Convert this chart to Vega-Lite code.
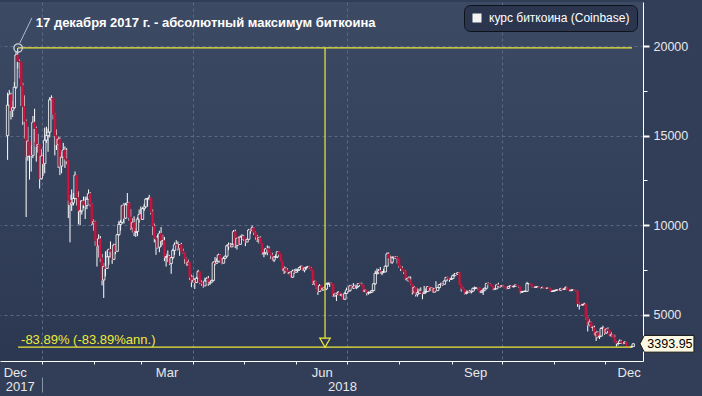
{
"$schema":"https://vega.github.io/schema/vega-lite/v6.json",
"width":643,"height":359,
"autosize":{"type":"none"},
"padding":{"left":0,"top":2,"right":59,"bottom":35},
"background":"#323e58",
"view":{"fill":{"gradient":"linear","x1":0,"y1":0,"x2":0,"y2":1,"stops":[{"offset":0,"color":"#3d4a64"},{"offset":1,"color":"#2c3852"}]},"stroke":null},
"config":{"font":"Liberation Sans","axis":{"labelFont":"Liberation Sans","labelFontSize":12.5,"labelColor":"#e8e8e8","domainColor":"#ffffff","tickColor":"#ffffff","gridColor":"#5a6985","gridDash":[3,3],"gridWidth":1,"title":null},
"legend":{"labelFont":"Liberation Sans","labelFontSize":12,"labelColor":"#ffffff"}},
"resolve":{"axis":{"x":"independent","y":"independent"}},
"datasets":{
"btc":[
{"d":"2017-12-11","o":15000,"h":17400,"l":13650,"c":16700},
{"d":"2017-12-12","o":16700,"h":17550,"l":16500,"c":17280},
{"d":"2017-12-13","o":17280,"h":17400,"l":15900,"c":16410},
{"d":"2017-12-14","o":16410,"h":16940,"l":16040,"c":16560},
{"d":"2017-12-15","o":16560,"h":17990,"l":16500,"c":17700},
{"d":"2017-12-16","o":17700,"h":19700,"l":17600,"c":19500},
{"d":"2017-12-17","o":19500,"h":19891,"l":18750,"c":19140},
{"d":"2017-12-18","o":19140,"h":19250,"l":18200,"c":19110},
{"d":"2017-12-19","o":19110,"h":19130,"l":16650,"c":17770},
{"d":"2017-12-20","o":17770,"h":17950,"l":15600,"c":16620},
{"d":"2017-12-21","o":16620,"h":17250,"l":14850,"c":15800},
{"d":"2017-12-22","o":15800,"h":15900,"l":10460,"c":13830},
{"d":"2017-12-23","o":13830,"h":15500,"l":13600,"c":14700},
{"d":"2017-12-24","o":14700,"h":14700,"l":12550,"c":13920},
{"d":"2017-12-25","o":13920,"h":14450,"l":13000,"c":13900},
{"d":"2017-12-26","o":13900,"h":16100,"l":13750,"c":15750},
{"d":"2017-12-27","o":15750,"h":16500,"l":14650,"c":15400},
{"d":"2017-12-28","o":15400,"h":15500,"l":13550,"c":14400},
{"d":"2017-12-29","o":14400,"h":15100,"l":14050,"c":14500},
{"d":"2017-12-30","o":14500,"h":14500,"l":12050,"c":12600},
{"d":"2017-12-31","o":12600,"h":14250,"l":12550,"c":13860},
{"d":"2018-01-01","o":13860,"h":13920,"l":12750,"c":13440},
{"d":"2018-01-02","o":13440,"h":15450,"l":12900,"c":14750},
{"d":"2018-01-03","o":14750,"h":15500,"l":14600,"c":15000},
{"d":"2018-01-04","o":15000,"h":15400,"l":14100,"c":15200},
{"d":"2018-01-05","o":15200,"h":17150,"l":14900,"c":17000},
{"d":"2018-01-06","o":17000,"h":17250,"l":16200,"c":17100},
{"d":"2018-01-07","o":17100,"h":17120,"l":15900,"c":16200},
{"d":"2018-01-08","o":16200,"h":16250,"l":13900,"c":15000},
{"d":"2018-01-09","o":15000,"h":15350,"l":14200,"c":14500},
{"d":"2018-01-10","o":14500,"h":14950,"l":13200,"c":14800},
{"d":"2018-01-11","o":14800,"h":14900,"l":12800,"c":13300},
{"d":"2018-01-12","o":13300,"h":14100,"l":12900,"c":13800},
{"d":"2018-01-13","o":13800,"h":14600,"l":13750,"c":14200},
{"d":"2018-01-14","o":14200,"h":14400,"l":13200,"c":13700},
{"d":"2018-01-15","o":13700,"h":14300,"l":13400,"c":13600},
{"d":"2018-01-16","o":13600,"h":13620,"l":10400,"c":11400},
{"d":"2018-01-17","o":11400,"h":11700,"l":9050,"c":11150},
{"d":"2018-01-18","o":11150,"h":12000,"l":10800,"c":11250},
{"d":"2018-01-19","o":11250,"h":11800,"l":11100,"c":11500},
{"d":"2018-01-20","o":11500,"h":13000,"l":11450,"c":12800},
{"d":"2018-01-21","o":12800,"h":12800,"l":11100,"c":11550},
{"d":"2018-01-22","o":11550,"h":11900,"l":10050,"c":10800},
{"d":"2018-01-23","o":10800,"h":11400,"l":10000,"c":10800},
{"d":"2018-01-24","o":10800,"h":11400,"l":10600,"c":11350},
{"d":"2018-01-25","o":11350,"h":11600,"l":10950,"c":11150},
{"d":"2018-01-26","o":11150,"h":11600,"l":10350,"c":11100},
{"d":"2018-01-27","o":11100,"h":11600,"l":10900,"c":11450},
{"d":"2018-01-28","o":11450,"h":12000,"l":11450,"c":11770},
{"d":"2018-01-29","o":11770,"h":11850,"l":11050,"c":11200},
{"d":"2018-01-30","o":11200,"h":11250,"l":10000,"c":10100},
{"d":"2018-01-31","o":10100,"h":10350,"l":9700,"c":10200},
{"d":"2018-02-01","o":10200,"h":10250,"l":8850,"c":9150},
{"d":"2018-02-02","o":9150,"h":9250,"l":7700,"c":8850},
{"d":"2018-02-03","o":8850,"h":9500,"l":8200,"c":9250},
{"d":"2018-02-04","o":9250,"h":9400,"l":7950,"c":8180},
{"d":"2018-02-05","o":8180,"h":8400,"l":6650,"c":6950},
{"d":"2018-02-06","o":6950,"h":7900,"l":5950,"c":7700},
{"d":"2018-02-07","o":7700,"h":8550,"l":7150,"c":7600},
{"d":"2018-02-08","o":7600,"h":8600,"l":7600,"c":8250},
{"d":"2018-02-09","o":8250,"h":8700,"l":7800,"c":8650},
{"d":"2018-02-10","o":8650,"h":9100,"l":8200,"c":8550},
{"d":"2018-02-11","o":8550,"h":8550,"l":7850,"c":8100},
{"d":"2018-02-12","o":8100,"h":8980,"l":8100,"c":8900},
{"d":"2018-02-13","o":8900,"h":8950,"l":8400,"c":8550},
{"d":"2018-02-14","o":8550,"h":9500,"l":8550,"c":9480},
{"d":"2018-02-15","o":9480,"h":10250,"l":9400,"c":10050},
{"d":"2018-02-16","o":10050,"h":10300,"l":9700,"c":10170},
{"d":"2018-02-17","o":10170,"h":11150,"l":10100,"c":11100},
{"d":"2018-02-18","o":11100,"h":11250,"l":10100,"c":10400},
{"d":"2018-02-19","o":10400,"h":11250,"l":10350,"c":11150},
{"d":"2018-02-20","o":11150,"h":11800,"l":11100,"c":11250},
{"d":"2018-02-21","o":11250,"h":11300,"l":10250,"c":10450},
{"d":"2018-02-22","o":10450,"h":10900,"l":9750,"c":9850},
{"d":"2018-02-23","o":9850,"h":10400,"l":9600,"c":10150},
{"d":"2018-02-24","o":10150,"h":10500,"l":9400,"c":9600},
{"d":"2018-02-25","o":9600,"h":9850,"l":9350,"c":9650},
{"d":"2018-02-26","o":9650,"h":10450,"l":9400,"c":10350},
{"d":"2018-02-27","o":10350,"h":10880,"l":10150,"c":10600},
{"d":"2018-02-28","o":10600,"h":11050,"l":10300,"c":10330},
{"d":"2018-03-01","o":10330,"h":11000,"l":10300,"c":10930},
{"d":"2018-03-02","o":10930,"h":11200,"l":10800,"c":11030},
{"d":"2018-03-03","o":11030,"h":11520,"l":11000,"c":11460},
{"d":"2018-03-04","o":11460,"h":11530,"l":11050,"c":11500},
{"d":"2018-03-05","o":11500,"h":11700,"l":11400,"c":11550},
{"d":"2018-03-06","o":11550,"h":11560,"l":10600,"c":10730},
{"d":"2018-03-07","o":10730,"h":10900,"l":9450,"c":9950},
{"d":"2018-03-08","o":9950,"h":10100,"l":9050,"c":9300},
{"d":"2018-03-09","o":9300,"h":9400,"l":8350,"c":9230},
{"d":"2018-03-10","o":9230,"h":9500,"l":8700,"c":8780},
{"d":"2018-03-11","o":8780,"h":9700,"l":8500,"c":9550},
{"d":"2018-03-12","o":9550,"h":9900,"l":8800,"c":9150},
{"d":"2018-03-13","o":9150,"h":9480,"l":8900,"c":9150},
{"d":"2018-03-14","o":9150,"h":9350,"l":8000,"c":8200},
{"d":"2018-03-15","o":8200,"h":8420,"l":7700,"c":8260},
{"d":"2018-03-16","o":8260,"h":8600,"l":7950,"c":8280},
{"d":"2018-03-17","o":8280,"h":8350,"l":7800,"c":7870},
{"d":"2018-03-18","o":7870,"h":8250,"l":7300,"c":8200},
{"d":"2018-03-19","o":8200,"h":8700,"l":8100,"c":8600},
{"d":"2018-03-20","o":8600,"h":9050,"l":8350,"c":8920},
{"d":"2018-03-21","o":8920,"h":9170,"l":8800,"c":8900},
{"d":"2018-03-22","o":8900,"h":9100,"l":8600,"c":8720},
{"d":"2018-03-23","o":8720,"h":8950,"l":8300,"c":8930},
{"d":"2018-03-24","o":8930,"h":9020,"l":8530,"c":8550},
{"d":"2018-03-25","o":8550,"h":8700,"l":8400,"c":8460},
{"d":"2018-03-26","o":8460,"h":8500,"l":7850,"c":8140},
{"d":"2018-03-27","o":8140,"h":8200,"l":7750,"c":7800},
{"d":"2018-03-28","o":7800,"h":8100,"l":7750,"c":7950},
{"d":"2018-03-29","o":7950,"h":7950,"l":6950,"c":7100},
{"d":"2018-03-30","o":7100,"h":7250,"l":6550,"c":6850},
{"d":"2018-03-31","o":6850,"h":7200,"l":6800,"c":6930},
{"d":"2018-04-01","o":6930,"h":7050,"l":6450,"c":6810},
{"d":"2018-04-02","o":6810,"h":7130,"l":6780,"c":7050},
{"d":"2018-04-03","o":7050,"h":7520,"l":7030,"c":7420},
{"d":"2018-04-04","o":7420,"h":7430,"l":6720,"c":6790},
{"d":"2018-04-05","o":6790,"h":6940,"l":6620,"c":6780},
{"d":"2018-04-06","o":6780,"h":6850,"l":6520,"c":6620},
{"d":"2018-04-07","o":6620,"h":7080,"l":6620,"c":6900},
{"d":"2018-04-08","o":6900,"h":7110,"l":6890,"c":7020},
{"d":"2018-04-09","o":7020,"h":7180,"l":6630,"c":6770},
{"d":"2018-04-10","o":6770,"h":6880,"l":6670,"c":6830},
{"d":"2018-04-11","o":6830,"h":6970,"l":6820,"c":6930},
{"d":"2018-04-12","o":6930,"h":8000,"l":6880,"c":7920},
{"d":"2018-04-13","o":7920,"h":8230,"l":7770,"c":7890},
{"d":"2018-04-14","o":7890,"h":8170,"l":7850,"c":8000},
{"d":"2018-04-15","o":8000,"h":8420,"l":7980,"c":8350},
{"d":"2018-04-16","o":8350,"h":8400,"l":7900,"c":8060},
{"d":"2018-04-17","o":8060,"h":8170,"l":7830,"c":7890},
{"d":"2018-04-18","o":7890,"h":8240,"l":7880,"c":8160},
{"d":"2018-04-19","o":8160,"h":8300,"l":8110,"c":8280},
{"d":"2018-04-20","o":8280,"h":8920,"l":8200,"c":8860},
{"d":"2018-04-21","o":8860,"h":9040,"l":8620,"c":8920},
{"d":"2018-04-22","o":8920,"h":9020,"l":8770,"c":8800},
{"d":"2018-04-23","o":8800,"h":8990,"l":8790,"c":8940},
{"d":"2018-04-24","o":8940,"h":9740,"l":8930,"c":9650},
{"d":"2018-04-25","o":9650,"h":9760,"l":8730,"c":8870},
{"d":"2018-04-26","o":8870,"h":9300,"l":8650,"c":9280},
{"d":"2018-04-27","o":9280,"h":9370,"l":8920,"c":8940},
{"d":"2018-04-28","o":8940,"h":9430,"l":8930,"c":9350},
{"d":"2018-04-29","o":9350,"h":9510,"l":9180,"c":9390},
{"d":"2018-04-30","o":9390,"h":9460,"l":9130,"c":9240},
{"d":"2018-05-01","o":9240,"h":9240,"l":8840,"c":9070},
{"d":"2018-05-02","o":9070,"h":9260,"l":9060,"c":9220},
{"d":"2018-05-03","o":9220,"h":9800,"l":9200,"c":9740},
{"d":"2018-05-04","o":9740,"h":9760,"l":9530,"c":9700},
{"d":"2018-05-05","o":9700,"h":9990,"l":9700,"c":9860},
{"d":"2018-05-06","o":9860,"h":9900,"l":9460,"c":9620},
{"d":"2018-05-07","o":9620,"h":9660,"l":9200,"c":9360},
{"d":"2018-05-08","o":9360,"h":9470,"l":9070,"c":9190},
{"d":"2018-05-09","o":9190,"h":9370,"l":8990,"c":9310},
{"d":"2018-05-10","o":9310,"h":9380,"l":9000,"c":9010},
{"d":"2018-05-11","o":9010,"h":9010,"l":8360,"c":8410},
{"d":"2018-05-12","o":8410,"h":8640,"l":8220,"c":8470},
{"d":"2018-05-13","o":8470,"h":8740,"l":8370,"c":8690},
{"d":"2018-05-14","o":8690,"h":8880,"l":8330,"c":8680},
{"d":"2018-05-15","o":8680,"h":8840,"l":8460,"c":8480},
{"d":"2018-05-16","o":8480,"h":8490,"l":8120,"c":8340},
{"d":"2018-05-17","o":8340,"h":8470,"l":8030,"c":8060},
{"d":"2018-05-18","o":8060,"h":8270,"l":7950,"c":8240},
{"d":"2018-05-19","o":8240,"h":8380,"l":8170,"c":8240},
{"d":"2018-05-20","o":8240,"h":8560,"l":8170,"c":8530},
{"d":"2018-05-21","o":8530,"h":8550,"l":8340,"c":8390},
{"d":"2018-05-22","o":8390,"h":8400,"l":7990,"c":8000},
{"d":"2018-05-23","o":8000,"h":8000,"l":7450,"c":7500},
{"d":"2018-05-24","o":7500,"h":7720,"l":7290,"c":7580},
{"d":"2018-05-25","o":7580,"h":7660,"l":7360,"c":7470},
{"d":"2018-05-26","o":7470,"h":7600,"l":7320,"c":7350},
{"d":"2018-05-27","o":7350,"h":7420,"l":7260,"c":7350},
{"d":"2018-05-28","o":7350,"h":7440,"l":7090,"c":7110},
{"d":"2018-05-29","o":7110,"h":7530,"l":7060,"c":7450},
{"d":"2018-05-30","o":7450,"h":7560,"l":7300,"c":7380},
{"d":"2018-05-31","o":7380,"h":7600,"l":7370,"c":7490},
{"d":"2018-06-01","o":7490,"h":7560,"l":7370,"c":7520},
{"d":"2018-06-02","o":7520,"h":7690,"l":7470,"c":7640},
{"d":"2018-06-03","o":7640,"h":7760,"l":7610,"c":7710},
{"d":"2018-06-04","o":7710,"h":7740,"l":7460,"c":7500},
{"d":"2018-06-05","o":7500,"h":7640,"l":7380,"c":7620},
{"d":"2018-06-06","o":7620,"h":7690,"l":7520,"c":7660},
{"d":"2018-06-07","o":7660,"h":7740,"l":7640,"c":7690},
{"d":"2018-06-08","o":7690,"h":7700,"l":7570,"c":7620},
{"d":"2018-06-09","o":7620,"h":7680,"l":7460,"c":7500},
{"d":"2018-06-10","o":7500,"h":7500,"l":6670,"c":6770},
{"d":"2018-06-11","o":6770,"h":6910,"l":6650,"c":6880},
{"d":"2018-06-12","o":6880,"h":6900,"l":6470,"c":6550},
{"d":"2018-06-13","o":6550,"h":6620,"l":6120,"c":6310},
{"d":"2018-06-14","o":6310,"h":6720,"l":6300,"c":6640},
{"d":"2018-06-15","o":6640,"h":6650,"l":6380,"c":6400},
{"d":"2018-06-16","o":6400,"h":6560,"l":6340,"c":6490},
{"d":"2018-06-17","o":6490,"h":6580,"l":6440,"c":6450},
{"d":"2018-06-18","o":6450,"h":6800,"l":6390,"c":6720},
{"d":"2018-06-19","o":6720,"h":6840,"l":6690,"c":6740},
{"d":"2018-06-20","o":6740,"h":6790,"l":6560,"c":6770},
{"d":"2018-06-21","o":6770,"h":6800,"l":6700,"c":6720},
{"d":"2018-06-22","o":6720,"h":6730,"l":6000,"c":6060},
{"d":"2018-06-23","o":6060,"h":6250,"l":6040,"c":6170},
{"d":"2018-06-24","o":6170,"h":6240,"l":5780,"c":6150},
{"d":"2018-06-25","o":6150,"h":6340,"l":6100,"c":6250},
{"d":"2018-06-26","o":6250,"h":6270,"l":6070,"c":6090},
{"d":"2018-06-27","o":6090,"h":6180,"l":6030,"c":6150},
{"d":"2018-06-28","o":6150,"h":6170,"l":5850,"c":5880},
{"d":"2018-06-29","o":5880,"h":6290,"l":5830,"c":6200},
{"d":"2018-06-30","o":6200,"h":6530,"l":6200,"c":6390},
{"d":"2018-07-01","o":6390,"h":6440,"l":6270,"c":6360},
{"d":"2018-07-02","o":6360,"h":6680,"l":6290,"c":6620},
{"d":"2018-07-03","o":6620,"h":6680,"l":6500,"c":6510},
{"d":"2018-07-04","o":6510,"h":6780,"l":6450,"c":6590},
{"d":"2018-07-05","o":6590,"h":6690,"l":6460,"c":6530},
{"d":"2018-07-06","o":6530,"h":6640,"l":6440,"c":6600},
{"d":"2018-07-07","o":6600,"h":6780,"l":6550,"c":6750},
{"d":"2018-07-08","o":6750,"h":6800,"l":6690,"c":6700},
{"d":"2018-07-09","o":6700,"h":6800,"l":6640,"c":6660},
{"d":"2018-07-10","o":6660,"h":6680,"l":6290,"c":6300},
{"d":"2018-07-11","o":6300,"h":6410,"l":6300,"c":6380},
{"d":"2018-07-12","o":6380,"h":6390,"l":6090,"c":6240},
{"d":"2018-07-13","o":6240,"h":6330,"l":6140,"c":6240},
{"d":"2018-07-14","o":6240,"h":6320,"l":6200,"c":6270},
{"d":"2018-07-15","o":6270,"h":6400,"l":6260,"c":6360},
{"d":"2018-07-16","o":6360,"h":6770,"l":6350,"c":6740},
{"d":"2018-07-17","o":6740,"h":7470,"l":6690,"c":7320},
{"d":"2018-07-18","o":7320,"h":7590,"l":7250,"c":7380},
{"d":"2018-07-19","o":7380,"h":7570,"l":7280,"c":7470},
{"d":"2018-07-20","o":7470,"h":7680,"l":7290,"c":7330},
{"d":"2018-07-21","o":7330,"h":7450,"l":7220,"c":7400},
{"d":"2018-07-22","o":7400,"h":7570,"l":7370,"c":7400},
{"d":"2018-07-23","o":7400,"h":7770,"l":7400,"c":7720},
{"d":"2018-07-24","o":7720,"h":8490,"l":7700,"c":8400},
{"d":"2018-07-25","o":8400,"h":8490,"l":8080,"c":8170},
{"d":"2018-07-26","o":8170,"h":8310,"l":7880,"c":7940},
{"d":"2018-07-27","o":7940,"h":8280,"l":7850,"c":8190},
{"d":"2018-07-28","o":8190,"h":8240,"l":8110,"c":8230},
{"d":"2018-07-29","o":8230,"h":8290,"l":8140,"c":8210},
{"d":"2018-07-30","o":8210,"h":8270,"l":7870,"c":8170},
{"d":"2018-07-31","o":8170,"h":8180,"l":7640,"c":7730},
{"d":"2018-08-01","o":7730,"h":7760,"l":7460,"c":7600},
{"d":"2018-08-02","o":7600,"h":7720,"l":7490,"c":7540},
{"d":"2018-08-03","o":7540,"h":7550,"l":7280,"c":7420},
{"d":"2018-08-04","o":7420,"h":7480,"l":6940,"c":7010},
{"d":"2018-08-05","o":7010,"h":7090,"l":6880,"c":7030},
{"d":"2018-08-06","o":7030,"h":7150,"l":6860,"c":6940},
{"d":"2018-08-07","o":6940,"h":7150,"l":6680,"c":6720},
{"d":"2018-08-08","o":6720,"h":6730,"l":6140,"c":6280},
{"d":"2018-08-09","o":6280,"h":6620,"l":6200,"c":6540},
{"d":"2018-08-10","o":6540,"h":6560,"l":6030,"c":6150},
{"d":"2018-08-11","o":6150,"h":6480,"l":6020,"c":6240},
{"d":"2018-08-12","o":6240,"h":6470,"l":6160,"c":6320},
{"d":"2018-08-13","o":6320,"h":6540,"l":6170,"c":6250},
{"d":"2018-08-14","o":6250,"h":6250,"l":5880,"c":6190},
{"d":"2018-08-15","o":6190,"h":6620,"l":6170,"c":6270},
{"d":"2018-08-16","o":6270,"h":6480,"l":6210,"c":6310},
{"d":"2018-08-17","o":6310,"h":6600,"l":6300,"c":6580},
{"d":"2018-08-18","o":6580,"h":6610,"l":6310,"c":6390},
{"d":"2018-08-19","o":6390,"h":6560,"l":6340,"c":6500},
{"d":"2018-08-20","o":6500,"h":6530,"l":6250,"c":6270},
{"d":"2018-08-21","o":6270,"h":6500,"l":6270,"c":6480},
{"d":"2018-08-22","o":6480,"h":6880,"l":6300,"c":6360},
{"d":"2018-08-23","o":6360,"h":6560,"l":6350,"c":6530},
{"d":"2018-08-24","o":6530,"h":6720,"l":6470,"c":6690},
{"d":"2018-08-25","o":6690,"h":6800,"l":6690,"c":6730},
{"d":"2018-08-26","o":6730,"h":6780,"l":6620,"c":6710},
{"d":"2018-08-27","o":6710,"h":6920,"l":6700,"c":6900},
{"d":"2018-08-28","o":6900,"h":7130,"l":6880,"c":7090},
{"d":"2018-08-29","o":7090,"h":7130,"l":6990,"c":7040},
{"d":"2018-08-30","o":7040,"h":7060,"l":6850,"c":6980},
{"d":"2018-08-31","o":6980,"h":7100,"l":6950,"c":7030},
{"d":"2018-09-01","o":7030,"h":7240,"l":7020,"c":7190},
{"d":"2018-09-02","o":7190,"h":7340,"l":7150,"c":7270},
{"d":"2018-09-03","o":7270,"h":7340,"l":7220,"c":7260},
{"d":"2018-09-04","o":7260,"h":7400,"l":7240,"c":7360},
{"d":"2018-09-05","o":7360,"h":7390,"l":6680,"c":6700},
{"d":"2018-09-06","o":6700,"h":6710,"l":6310,"c":6510},
{"d":"2018-09-07","o":6510,"h":6550,"l":6390,"c":6410},
{"d":"2018-09-08","o":6410,"h":6450,"l":6150,"c":6200},
{"d":"2018-09-09","o":6200,"h":6380,"l":6150,"c":6250},
{"d":"2018-09-10","o":6250,"h":6360,"l":6250,"c":6300},
{"d":"2018-09-11","o":6300,"h":6400,"l":6220,"c":6280},
{"d":"2018-09-12","o":6280,"h":6340,"l":6200,"c":6330},
{"d":"2018-09-13","o":6330,"h":6530,"l":6320,"c":6490},
{"d":"2018-09-14","o":6490,"h":6590,"l":6410,"c":6490},
{"d":"2018-09-15","o":6490,"h":6550,"l":6480,"c":6520},
{"d":"2018-09-16","o":6520,"h":6530,"l":6410,"c":6500},
{"d":"2018-09-17","o":6500,"h":6530,"l":6220,"c":6250},
{"d":"2018-09-18","o":6250,"h":6400,"l":6230,"c":6330},
{"d":"2018-09-19","o":6330,"h":6500,"l":6120,"c":6390},
{"d":"2018-09-20","o":6390,"h":6540,"l":6370,"c":6490},
{"d":"2018-09-21","o":6490,"h":6790,"l":6480,"c":6760},
{"d":"2018-09-22","o":6760,"h":6820,"l":6670,"c":6720},
{"d":"2018-09-23","o":6720,"h":6780,"l":6680,"c":6700},
{"d":"2018-09-24","o":6700,"h":6720,"l":6570,"c":6590},
{"d":"2018-09-25","o":6590,"h":6600,"l":6380,"c":6440},
{"d":"2018-09-26","o":6440,"h":6540,"l":6410,"c":6460},
{"d":"2018-09-27","o":6460,"h":6700,"l":6450,"c":6680},
{"d":"2018-09-28","o":6680,"h":6800,"l":6540,"c":6640},
{"d":"2018-09-29","o":6640,"h":6650,"l":6510,"c":6600},
{"d":"2018-09-30","o":6600,"h":6650,"l":6560,"c":6630},
{"d":"2018-10-01","o":6630,"h":6670,"l":6550,"c":6590},
{"d":"2018-10-02","o":6590,"h":6610,"l":6490,"c":6510},
{"d":"2018-10-03","o":6510,"h":6530,"l":6430,"c":6480},
{"d":"2018-10-04","o":6480,"h":6600,"l":6470,"c":6580},
{"d":"2018-10-05","o":6580,"h":6660,"l":6560,"c":6630},
{"d":"2018-10-06","o":6630,"h":6640,"l":6560,"c":6570},
{"d":"2018-10-07","o":6570,"h":6620,"l":6540,"c":6600},
{"d":"2018-10-08","o":6600,"h":6690,"l":6600,"c":6670},
{"d":"2018-10-09","o":6670,"h":6680,"l":6620,"c":6640},
{"d":"2018-10-10","o":6640,"h":6640,"l":6520,"c":6580},
{"d":"2018-10-11","o":6580,"h":6580,"l":6200,"c":6260},
{"d":"2018-10-12","o":6260,"h":6330,"l":6240,"c":6310},
{"d":"2018-10-13","o":6310,"h":6340,"l":6300,"c":6320},
{"d":"2018-10-14","o":6320,"h":6380,"l":6310,"c":6320},
{"d":"2018-10-15","o":6320,"h":6850,"l":6300,"c":6750},
{"d":"2018-10-16","o":6750,"h":6780,"l":6700,"c":6760},
{"d":"2018-10-17","o":6760,"h":6770,"l":6690,"c":6720},
{"d":"2018-10-18","o":6720,"h":6730,"l":6540,"c":6590},
{"d":"2018-10-19","o":6590,"h":6600,"l":6530,"c":6550},
{"d":"2018-10-20","o":6550,"h":6580,"l":6530,"c":6560},
{"d":"2018-10-21","o":6560,"h":6600,"l":6540,"c":6560},
{"d":"2018-10-22","o":6560,"h":6580,"l":6520,"c":6540},
{"d":"2018-10-23","o":6540,"h":6550,"l":6480,"c":6520},
{"d":"2018-10-24","o":6520,"h":6580,"l":6510,"c":6530},
{"d":"2018-10-25","o":6530,"h":6540,"l":6480,"c":6500},
{"d":"2018-10-26","o":6500,"h":6520,"l":6470,"c":6490},
{"d":"2018-10-27","o":6490,"h":6510,"l":6480,"c":6500},
{"d":"2018-10-28","o":6500,"h":6510,"l":6470,"c":6490},
{"d":"2018-10-29","o":6490,"h":6510,"l":6300,"c":6320},
{"d":"2018-10-30","o":6320,"h":6340,"l":6300,"c":6320},
{"d":"2018-10-31","o":6320,"h":6380,"l":6310,"c":6370},
{"d":"2018-11-01","o":6370,"h":6410,"l":6350,"c":6380},
{"d":"2018-11-02","o":6380,"h":6430,"l":6370,"c":6400},
{"d":"2018-11-03","o":6400,"h":6400,"l":6350,"c":6380},
{"d":"2018-11-04","o":6380,"h":6510,"l":6350,"c":6480},
{"d":"2018-11-05","o":6480,"h":6480,"l":6400,"c":6420},
{"d":"2018-11-06","o":6420,"h":6470,"l":6400,"c":6460},
{"d":"2018-11-07","o":6460,"h":6590,"l":6450,"c":6540},
{"d":"2018-11-08","o":6540,"h":6550,"l":6400,"c":6420},
{"d":"2018-11-09","o":6420,"h":6430,"l":6330,"c":6350},
{"d":"2018-11-10","o":6350,"h":6400,"l":6350,"c":6390},
{"d":"2018-11-11","o":6390,"h":6420,"l":6340,"c":6400},
{"d":"2018-11-12","o":6400,"h":6420,"l":6360,"c":6380},
{"d":"2018-11-13","o":6380,"h":6400,"l":6300,"c":6330},
{"d":"2018-11-14","o":6330,"h":6350,"l":5450,"c":5640},
{"d":"2018-11-15","o":5640,"h":5690,"l":5300,"c":5620},
{"d":"2018-11-16","o":5620,"h":5630,"l":5500,"c":5560},
{"d":"2018-11-17","o":5560,"h":5590,"l":5520,"c":5580},
{"d":"2018-11-18","o":5580,"h":5680,"l":5580,"c":5620},
{"d":"2018-11-19","o":5620,"h":5620,"l":4750,"c":4820},
{"d":"2018-11-20","o":4820,"h":4900,"l":4080,"c":4450},
{"d":"2018-11-21","o":4450,"h":4760,"l":4370,"c":4600},
{"d":"2018-11-22","o":4600,"h":4630,"l":4300,"c":4310},
{"d":"2018-11-23","o":4310,"h":4400,"l":4100,"c":4310},
{"d":"2018-11-24","o":4310,"h":4400,"l":3860,"c":3880},
{"d":"2018-11-25","o":3880,"h":4120,"l":3550,"c":4010},
{"d":"2018-11-26","o":4010,"h":4090,"l":3700,"c":3780},
{"d":"2018-11-27","o":3780,"h":3840,"l":3660,"c":3820},
{"d":"2018-11-28","o":3820,"h":4320,"l":3820,"c":4250},
{"d":"2018-11-29","o":4250,"h":4400,"l":4130,"c":4270},
{"d":"2018-11-30","o":4270,"h":4280,"l":3900,"c":3990},
{"d":"2018-12-01","o":3990,"h":4250,"l":3960,"c":4210},
{"d":"2018-12-02","o":4210,"h":4310,"l":4110,"c":4140},
{"d":"2018-12-03","o":4140,"h":4150,"l":3820,"c":3840},
{"d":"2018-12-04","o":3840,"h":4040,"l":3780,"c":3910},
{"d":"2018-12-05","o":3910,"h":3920,"l":3720,"c":3730},
{"d":"2018-12-06","o":3730,"h":3900,"l":3480,"c":3500},
{"d":"2018-12-07","o":3500,"h":3550,"l":3240,"c":3410},
{"d":"2018-12-08","o":3410,"h":3500,"l":3300,"c":3410},
{"d":"2018-12-09","o":3410,"h":3640,"l":3400,"c":3550},
{"d":"2018-12-10","o":3550,"h":3600,"l":3400,"c":3450},
{"d":"2018-12-11","o":3450,"h":3470,"l":3370,"c":3410},
{"d":"2018-12-12","o":3410,"h":3530,"l":3400,"c":3490},
{"d":"2018-12-13","o":3490,"h":3490,"l":3240,"c":3260},
{"d":"2018-12-14","o":3260,"h":3270,"l":3220,"c":3230},
{"d":"2018-12-15","o":3230,"h":3250,"l":3205,"c":3210},
{"d":"2018-12-16","o":3210,"h":3290,"l":3210,"c":3240},
{"d":"2018-12-17","o":3240,"h":3420,"l":3225,"c":3393.95}
],
"hlines":[{"x1":"2017-12-18","x2":"2018-12-17","y":19891},{"x1":"2017-12-18","x2":"2018-12-17","y":3204}],
"one":[{}]
},
"layer":[
{"data":{"name":"btc"},"mark":{"type":"rule","strokeWidth":1,"xOffset":1.3},
"encoding":{
"x":{"field":"d","type":"temporal","scale":{"type":"utc","domain":[{"year":2017,"month":12,"date":10,"hours":5,"minutes":30,"utc":true},{"year":2018,"month":12,"date":20,"hours":14,"utc":true}]},
"axis":{"orient":"bottom","values":[{"year":2018,"month":1,"date":1,"utc":true},{"year":2018,"month":2,"date":1,"utc":true},{"year":2018,"month":3,"date":1,"utc":true},{"year":2018,"month":4,"date":1,"utc":true},{"year":2018,"month":5,"date":1,"utc":true},{"year":2018,"month":6,"date":1,"utc":true},{"year":2018,"month":7,"date":1,"utc":true},{"year":2018,"month":8,"date":1,"utc":true},{"year":2018,"month":9,"date":1,"utc":true},{"year":2018,"month":10,"date":1,"utc":true},{"year":2018,"month":11,"date":1,"utc":true},{"year":2018,"month":12,"date":1,"utc":true}],"labels":false,"tickSize":3,"grid":false,"domain":true,"title":null}},
"y":{"field":"l","type":"quantitative","scale":{"domain":[2434,22454],"nice":false,"zero":false},
"axis":{"orient":"right","values":[5000,10000,15000,20000],"format":"d","tickSize":6,"tickWidth":2,"labelPadding":4,"grid":true,"title":null}},
"y2":{"field":"h"},
"color":{"datum":"курс биткоина (Coinbase)","type":"nominal","scale":{"range":["#ffffff"]},
"legend":{"orient":"none","legendX":464,"legendY":3,"title":null,"symbolType":"square","symbolSize":81,"labelOffset":6,"padding":7,"fillColor":"#2b364e","strokeColor":"#0e121a","cornerRadius":6,
"encode":{"symbols":{"update":{"fill":{"value":"#f4f4f4"},"stroke":{"value":"#f4f4f4"},"strokeWidth":{"value":0}}}}}}
}},
{"data":{"name":"btc"},"mark":{"type":"bar","size":2.4,"xOffset":1.3,"strokeWidth":0.8},
"encoding":{
"x":{"field":"d","type":"temporal","axis":{"orient":"bottom","values":[{"year":2018,"month":1,"date":1,"utc":true},{"year":2018,"month":4,"date":1,"utc":true},{"year":2018,"month":7,"date":1,"utc":true},{"year":2018,"month":10,"date":1,"utc":true}],"grid":true,"ticks":false,"labels":false,"domain":false,"title":null}},
"y":{"field":"o","type":"quantitative","axis":{"orient":"right","values":[7500,12500,17500],"labels":false,"tickSize":4,"domain":false,"grid":false,"title":null}},
"y2":{"field":"c"},
"fill":{"condition":{"test":"datum.c < datum.o","value":"#cc1540"},"value":"#34405a"},
"stroke":{"condition":{"test":"datum.c < datum.o","value":"#8a1f3f"},"value":"#ffffff"}
}},
{"data":{"name":"hlines"},"mark":{"type":"rule","color":"#eeea3a","strokeWidth":1.2},
"encoding":{
"x":{"field":"x1","type":"temporal","axis":{"orient":"bottom","values":[{"year":2017,"month":12,"date":16,"utc":true},{"year":2018,"month":3,"date":16,"utc":true},{"year":2018,"month":6,"date":16,"utc":true},{"year":2018,"month":9,"date":15,"utc":true},{"year":2018,"month":12,"date":15,"utc":true}],"format":"%b","ticks":false,"tickSize":0,"labelPadding":5,"domain":false,"grid":false,"labelFontSize":13,"title":null}},
"x2":{"field":"x2"},
"y":{"field":"y","type":"quantitative","axis":null}
}},
{"data":{"name":"one"},"mark":{"type":"rule","color":"#eeea3a","strokeWidth":1.2},
"encoding":{
"x":{"datum":{"year":2018,"month":6,"date":18,"utc":true},"type":"temporal","axis":{"orient":"bottom","values":[{"year":2017,"month":12,"date":19,"utc":true},{"year":2018,"month":6,"date":28,"utc":true}],"format":"%Y","ticks":false,"tickSize":0,"labelPadding":19,"domain":false,"grid":false,"labelFontSize":13,"title":null}},
"y":{"datum":19891,"type":"quantitative","axis":null},
"y2":{"datum":3204}
}},
{"data":{"name":"one"},"mark":{"type":"point","shape":"triangle-down","size":110,"filled":true,"fill":"#2d3953","stroke":"#eeea3a","strokeWidth":1.2,"opacity":1,"yOffset":-4.5},
"encoding":{
"x":{"datum":{"year":2018,"month":6,"date":18,"utc":true},"type":"temporal","axis":{"orient":"bottom","offset":16,"values":[{"year":2018,"month":1,"date":1,"utc":true}],"ticks":true,"tickSize":15,"tickColor":"#8793a8","labels":false,"domain":false,"grid":false,"title":null}},
"y":{"datum":3204,"type":"quantitative","axis":null}
}},
{"data":{"name":"one"},"mark":{"type":"text","text":"-83.89% (-83.89%ann.)","color":"#eeea3a","fontSize":13,"font":"Liberation Sans","align":"left","baseline":"alphabetic","dy":-3},
"encoding":{
"x":{"datum":{"year":2017,"month":12,"date":19,"hours":18,"utc":true},"type":"temporal","axis":null},
"y":{"datum":3204,"type":"quantitative","axis":null}
}},
{"data":{"name":"one"},"mark":{"type":"rule","color":"#b4bccb","strokeWidth":1},
"encoding":{
"x":{"datum":{"year":2017,"month":12,"date":19,"utc":true},"type":"temporal","axis":null},
"y":{"datum":20167,"type":"quantitative","axis":null},
"x2":{"datum":{"year":2017,"month":12,"date":26,"hours":4,"utc":true}},
"y2":{"datum":21562}
}},
{"data":{"name":"one"},"mark":{"type":"point","shape":"circle","size":70,"filled":false,"stroke":"#cfd4dc","strokeWidth":1.3,"opacity":1},
"encoding":{
"x":{"datum":{"year":2017,"month":12,"date":18,"utc":true},"type":"temporal","axis":null},
"y":{"datum":19891,"type":"quantitative","axis":null}
}},
{"data":{"name":"one"},"mark":{"type":"text","text":"17 декабря 2017 г. - абсолютный максимум биткоина","color":"#ffffff","fontSize":13,"fontWeight":"bold","font":"Liberation Sans","align":"left","baseline":"alphabetic"},
"encoding":{
"x":{"datum":{"year":2017,"month":12,"date":28,"hours":12,"utc":true},"type":"temporal","axis":null},
"y":{"datum":21060,"type":"quantitative","axis":null}
}},
{"data":{"name":"one"},"mark":{"type":"point","shape":"M-1,0L-0.84,-0.31L1,-0.31L1,0.31L-0.84,0.31Z","size":2916,"filled":true,"fill":"#fdf8e2","stroke":"#141414","strokeWidth":1,"opacity":1,"xOffset":35},
"encoding":{
"x":{"datum":{"year":2018,"month":12,"date":17,"utc":true},"type":"temporal","axis":null},
"y":{"datum":3393.95,"type":"quantitative","axis":null}
}},
{"data":{"name":"one"},"mark":{"type":"text","text":"3393.95","color":"#000000","fontSize":12.5,"font":"Liberation Sans","align":"center","baseline":"middle","dx":38},
"encoding":{
"x":{"datum":{"year":2018,"month":12,"date":17,"utc":true},"type":"temporal","axis":null},
"y":{"datum":3393.95,"type":"quantitative","axis":null}
}}
]
}
